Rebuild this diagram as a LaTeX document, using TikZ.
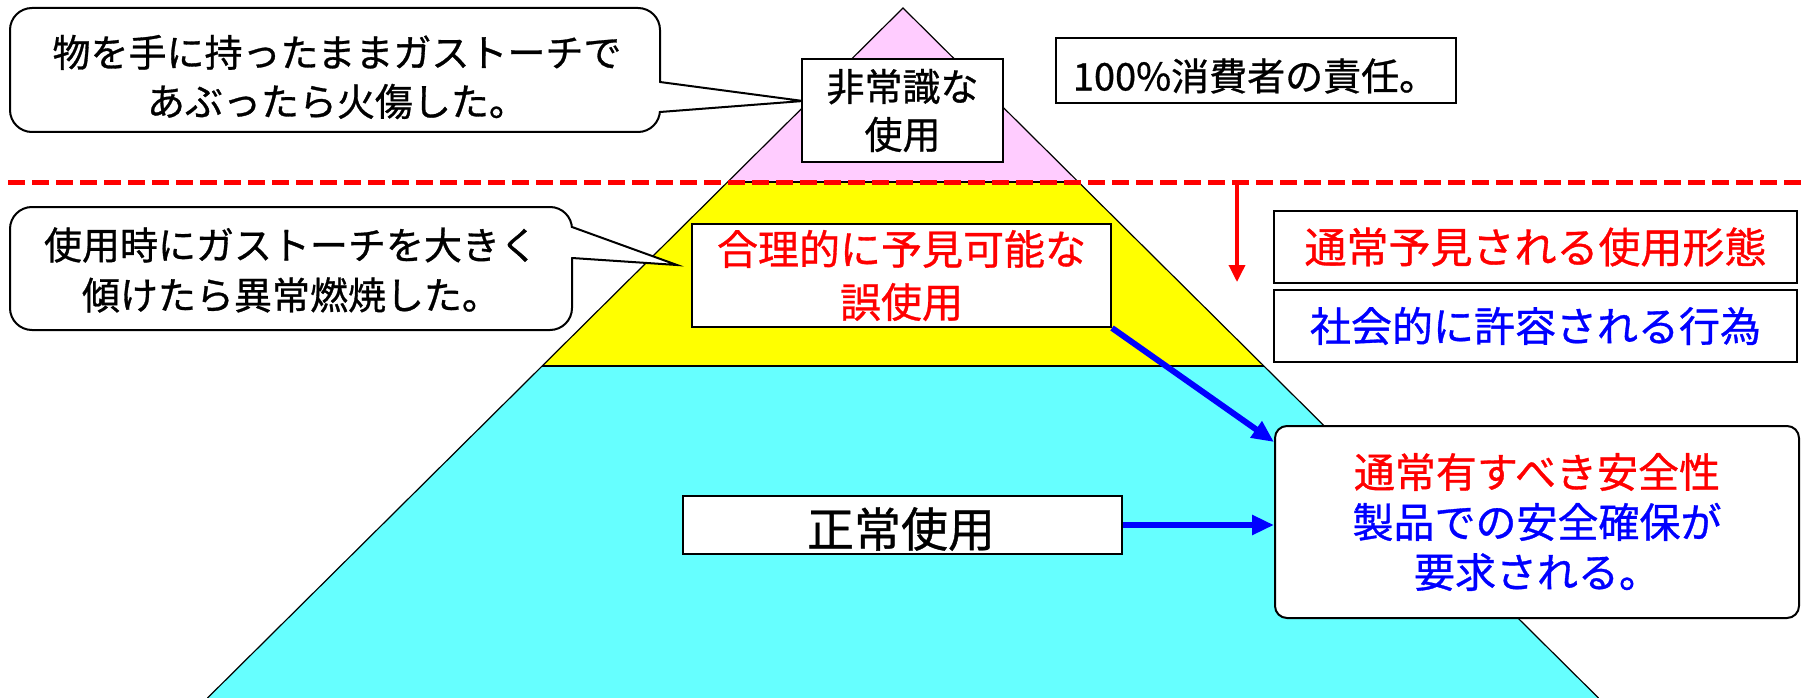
\documentclass[tikz,border=0pt]{standalone}
\usepackage{fontspec}
\newfontfamily\jp[FakeBold=0.8]{Noto Sans CJK JP}
\usetikzlibrary{arrows.meta,calc}
\definecolor{pyrpink}{HTML}{FFCCFF}
\definecolor{pyryellow}{HTML}{FFFF00}
\definecolor{pyrcyan}{HTML}{66FFFF}
\definecolor{txtred}{HTML}{FF0000}
\definecolor{txtblue}{HTML}{0000FF}
\begin{document}
\begin{tikzpicture}[x=1pt,y=-1pt,
  box/.style={draw=black, line width=2pt, fill=white, inner sep=0pt, align=center},
  callout/.style={draw=black, line width=2pt, fill=white, rounded corners=22pt, inner sep=0pt},
  plain/.style={inner sep=0pt, align=center},
  bluearrow/.style={draw=txtblue, line width=6pt, -{Triangle[length=22pt,width=19pt]}},
  redarrow/.style={draw=txtred, line width=3.5pt, -{Triangle[length=17pt,width=16pt]}},
  pyredge/.style={draw=black, line width=1.2pt}
]
\useasboundingbox (0,0) rectangle (1806,698);

% pyramid layers
\fill[pyrcyan] (542.1,366) -- (1263.9,366) -- (1598.5,698) -- (207.5,698) -- cycle;
\fill[pyryellow] (727.6,182) -- (1078.4,182) -- (1263.9,366) -- (542.1,366) -- cycle;
\fill[pyrpink] (903,8) -- (1078.4,182) -- (727.6,182) -- cycle;
\draw[pyredge] (207.5,698) -- (903,8) -- (1598.5,698);
\draw[pyredge] (542.1,366) -- (1263.9,366);
\draw[pyredge] (727.6,182) -- (1078.4,182);

% dashed boundary
\coordinate (dl) at (8,182);
\coordinate (dr) at (1806,182);
\draw[txtred, line width=5pt, dash pattern=on 17pt off 7pt] (dl) -- (dr);

% red arrow
\coordinate (ra1) at (1237,184);
\coordinate (ra2) at (1237,282);
\draw[redarrow] (ra1) -- (ra2);

% callout 1
\node[callout, minimum width=650pt, minimum height=124pt] (c1) at (335,70) {};
\coordinate (c1tip) at (803,101);
\fill[white] (650,83) -- (662,83) -- (c1tip) -- (662,111) -- (650,111) -- cycle;
\draw[line width=2pt] (660,82) -- (c1tip) -- (660,112);
\node[plain, font=\jp\fontsize{38pt}{49pt}\selectfont] (c1t) at (337,77)
  {物を手に持ったままガストーチで\\あぶったら火傷した。};

% callout 2
\node[callout, minimum width=562pt, minimum height=123pt] (c2) at (291,268.5) {};
\coordinate (c2tip) at (677,265);
\fill[white] (562,228) -- (574,228) -- (c2tip) -- (574,257) -- (562,257) -- cycle;
\draw[line width=2pt] (572,227) -- (c2tip) -- (572,258);
\node[plain, font=\jp\fontsize{38pt}{50pt}\selectfont] (c2t) at (291,270)
  {使用時にガストーチを大きく\\傾けたら異常燃焼した。};

% pyramid labels
\node[box, minimum width=201pt, minimum height=103pt, font=\jp\fontsize{38pt}{48pt}\selectfont] (hijo) at (902.5,110.5)
  {非常識な\\使用};
\node[box, minimum width=419pt, minimum height=103pt, text=txtred, font=\jp\fontsize{41pt}{53pt}\selectfont] (gouri) at (901.5,275.5)
  {合理的に予見可能な\\誤使用};
\node[box, minimum width=439pt, minimum height=58pt] (seijo) at (902.5,525) {};
\node[plain, font=\jp\fontsize{47pt}{56pt}\selectfont] (seijot) at (901,529) {正常使用};

% right side boxes
\node[box, minimum width=400pt, minimum height=65pt] (resp) at (1256,70.5) {};
\node[plain, font=\jp\fontsize{38pt}{46pt}\selectfont] (respt) at (1255,76) {100\%消費者の責任。};
\node[box, minimum width=523pt, minimum height=72pt, text=txtred, font=\jp\fontsize{42pt}{50pt}\selectfont] (tsujo) at (1535.5,247)
  {通常予見される使用形態};
\node[box, minimum width=523pt, minimum height=72pt, text=txtblue, font=\jp\fontsize{41pt}{50pt}\selectfont] (shakai) at (1535.5,326)
  {社会的に許容される行為};
\node[callout, rounded corners=12pt, minimum width=524pt, minimum height=192pt, align=center, font=\jp\fontsize{41pt}{50pt}\selectfont] (rb) at (1537,522)
  {\textcolor{txtred}{通常有すべき安全性}\\\textcolor{txtblue}{製品での安全確保が}\\\textcolor{txtblue}{要求される。}};

% blue arrows
\draw[bluearrow] (gouri.south east) -- ([yshift=-17pt]rb.north west);
\draw[bluearrow] (seijo.east) -- (rb.west |- seijo.east);
\end{tikzpicture}
\end{document}
